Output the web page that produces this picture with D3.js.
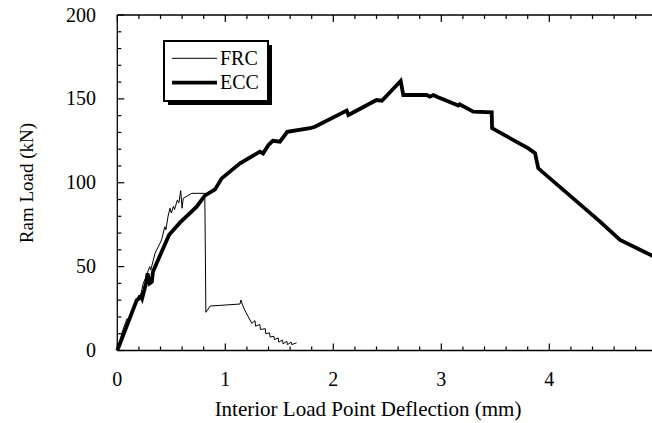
<!DOCTYPE html>
<html><head><meta charset="utf-8">
<script src="https://cdn.jsdelivr.net/npm/d3@7"></script>
<style>body{margin:0;background:#fff}svg{display:block}text{font-family:"Liberation Serif","Times New Roman",serif}</style>
</head><body>
<svg id="c" width="652" height="423"></svg>
<script>
const seriesNames = ["FRC", "ECC"];
const xTicks = [0, 1, 2, 3, 4, 5];
const yTicks = [0, 50, 100, 150, 200];
const frcX = [0, 0.05, 0.09, 0.1, 0.133, 0.16, 0.2, 0.21, 0.24, 0.26, 0.3, 0.31, 0.35, 0.365, 0.395, 0.41, 0.44, 0.45, 0.47, 0.488, 0.5, 0.52, 0.53, 0.556, 0.57, 0.587, 0.6, 0.61, 0.69, 0.81, 0.815, 0.82, 0.86, 1.136, 1.145, 1.16, 1.18, 1.245, 1.275, 1.28, 1.32, 1.325, 1.37, 1.375, 1.41, 1.415, 1.45, 1.455, 1.49, 1.495, 1.53, 1.535, 1.57, 1.575, 1.61, 1.615, 1.66];
const frcY = [0, 12, 19, 18, 22.2, 27, 33, 31, 40, 43, 50, 48, 58, 60, 63.9, 66, 73.8, 72, 80, 84.8, 82, 86, 84, 89.7, 88, 95.3, 84.8, 90.7, 93.7, 93.7, 60, 22.8, 26.5, 27.7, 30.1, 27, 24.1, 16.2, 17.8, 14.5, 15.5, 12.5, 13, 10, 10.5, 8, 8.5, 6.5, 7.5, 5, 6.2, 4, 5.5, 3.5, 5, 3.5, 4.6];
const eccX = [0, 0.18, 0.2, 0.22, 0.23, 0.27, 0.28, 0.3, 0.32, 0.33, 0.47, 0.48, 0.58, 0.735, 0.81, 0.905, 0.967, 1.136, 1.32, 1.35, 1.4, 1.44, 1.506, 1.574, 1.784, 1.83, 2.124, 2.14, 2.4, 2.45, 2.624, 2.648, 2.865, 2.895, 2.926, 2.97, 3.157, 3.17, 3.296, 3.467, 3.47, 3.806, 3.868, 3.898, 4.47, 4.655, 5.0];
const eccY = [0, 30, 31, 32.5, 31, 41, 46, 40, 41, 47, 67.5, 69, 76.2, 85.7, 92.3, 96, 102.6, 111.6, 118.5, 117.5, 122.5, 125, 124.5, 130.4, 132.5, 133.4, 143, 140.4, 149.3, 148.9, 160.7, 152.3, 152.3, 151.3, 152.3, 151, 146, 146.8, 142.4, 142, 132.5, 120.5, 117.6, 108.6, 76.8, 65.9, 55];

const svg = d3.select("#c");
const x = d3.scaleLinear().domain([0, 5]).range([117.3, 657.3]);
const y = d3.scaleLinear().domain([0, 200]).range([350.5, 15]);
const font = 20;

// frame lines
svg.append("line").attr("x1", x(0)).attr("x2", x(5)).attr("y1", y(0)).attr("y2", y(0)).attr("stroke", "#000").attr("stroke-width", 1.3);
svg.append("line").attr("x1", x(0)).attr("x2", x(5)).attr("y1", y(200)).attr("y2", y(200)).attr("stroke", "#000").attr("stroke-width", 1.3);
svg.append("line").attr("x1", x(0)).attr("x2", x(0)).attr("y1", y(0)).attr("y2", y(200)).attr("stroke", "#000").attr("stroke-width", 1.3);

const xMinor = d3.range(0, 5.0001, 0.2);
const yMinor = d3.range(0, 200.001, 10);
function isMajor(v, step) { return Math.abs(v / step - Math.round(v / step)) < 1e-6; }
// bottom ticks (inward)
svg.append("g").selectAll("line").data(xMinor).join("line")
  .attr("x1", d => x(d)).attr("x2", d => x(d))
  .attr("y1", y(0)).attr("y2", d => y(0) - (isMajor(d, 1) ? 7 : 4))
  .attr("stroke", "#000").attr("stroke-width", 1.2);
// top ticks
svg.append("g").selectAll("line").data(xMinor).join("line")
  .attr("x1", d => x(d)).attr("x2", d => x(d))
  .attr("y1", y(200)).attr("y2", d => y(200) + (isMajor(d, 1) ? 7 : 4))
  .attr("stroke", "#000").attr("stroke-width", 1.2);
// left ticks
svg.append("g").selectAll("line").data(yMinor).join("line")
  .attr("y1", d => y(d)).attr("y2", d => y(d))
  .attr("x1", x(0)).attr("x2", d => x(0) + (isMajor(d, 50) ? 7 : 4))
  .attr("stroke", "#000").attr("stroke-width", 1.2);

// tick labels
svg.append("g").selectAll("text").data(xTicks).join("text")
  .attr("x", d => x(d)).attr("y", 386).attr("text-anchor", "middle")
  .attr("font-size", font).text(d => d);
svg.append("g").selectAll("text").data(yTicks).join("text")
  .attr("x", 96).attr("y", d => y(d) + 6.5).attr("text-anchor", "end")
  .attr("font-size", font).text(d => d);

// axis titles
svg.append("text").attr("x", 368).attr("y", 416).attr("text-anchor", "middle")
  .attr("font-size", 21).text("Interior Load Point Deflection (mm)");
svg.append("text").attr("transform", "translate(33,183) rotate(-90)").attr("text-anchor", "middle")
  .attr("font-size", 19).text("Ram Load (kN)");

const line = d3.line().x(d => x(d[0])).y(d => y(d[1]));
const frc = frcX.map((v, i) => [v, frcY[i]]);
const ecc = eccX.map((v, i) => [v, eccY[i]]);
svg.append("path").attr("d", line(frc)).attr("fill", "none").attr("stroke", "#000").attr("stroke-width", 1).attr("stroke-linejoin", "miter");
svg.append("path").attr("d", line(ecc)).attr("fill", "none").attr("stroke", "#000").attr("stroke-width", 3.8).attr("stroke-linejoin", "miter");

// legend
const lg = svg.append("g");
lg.append("rect").attr("x", 168).attr("y", 45).attr("width", 104).attr("height", 60).attr("fill", "#000");
lg.append("rect").attr("x", 164).attr("y", 41).attr("width", 104).attr("height", 60).attr("fill", "#fff").attr("stroke", "#000").attr("stroke-width", 2);
const widths = [1, 3.8];
const ly = [58.3, 82.7];
seriesNames.forEach((n, i) => {
  lg.append("line").attr("x1", 172).attr("x2", 217).attr("y1", ly[i]).attr("y2", ly[i]).attr("stroke", "#000").attr("stroke-width", widths[i]);
  lg.append("text").attr("x", 220).attr("y", ly[i] + 6.5).attr("font-size", font).text(n);
});
</script>
</body></html>
